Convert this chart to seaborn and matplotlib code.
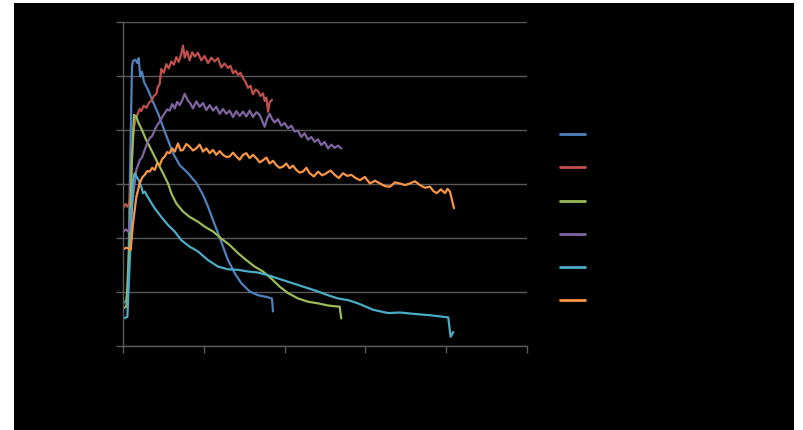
import matplotlib
matplotlib.use("Agg")
import matplotlib.pyplot as plt
import matplotlib.patches as mpatches
import numpy as np
import pandas as pd
import seaborn as sns

series_names = ["Series1", "Series2", "Series3", "Series4", "Series5", "Series6"]
series_colors = ["#4F81BD", "#C0504D", "#9BBB59", "#8064A2", "#4BACC6", "#F79646"]

x_blue = [0.5, 3.3, 5.0, 6.9, 8.9, 9.9, 12.2, 14.2, 15.5, 17.1, 18.8, 20.8, 24.8, 29.7, 34.7, 39.6, 44.6,
          49.5, 56.1, 64.4, 72.6, 79.2, 84.2, 89.1, 94.1, 99.0, 104.0, 110.6, 116.8, 125.4, 133.7, 141.9,
          147.5, 148.5]
y_blue = [8.0, 8.5, 10.4, 32.0, 51.7, 52.8, 53.0, 52.4, 53.3, 49.9, 50.8, 48.9, 47.4, 45.2, 43.1, 40.6, 38.1,
          35.7, 33.5, 32.0, 30.2, 28.0, 25.8, 23.3, 20.9, 18.4, 15.9, 13.5, 11.7, 10.1, 9.4, 9.1, 8.8, 6.4]

x_red = [0.5, 2.5, 4.3, 6.6, 8.2, 9.9, 11.0, 12.2, 13.5, 14.9, 16.5, 18.1, 20.5, 23.1, 25.5, 28.0, 30.5, 33.0,
         34.5, 36.3, 37.9, 40.4, 42.9, 45.3, 47.8, 50.3, 52.8, 55.2, 57.7, 59.4, 61.1, 63.5, 66.0, 68.5, 71.0,
         74.2, 77.5, 80.8, 84.2, 87.5, 90.8, 94.0, 97.3, 100.6, 104.0, 106.4, 108.9, 111.4, 113.9, 116.3,
         118.8, 121.3, 123.8, 126.2, 128.7, 131.2, 133.7, 136.1, 138.6, 140.2, 141.9, 143.6, 145.2, 147.5]
y_red = [25.6, 26.3, 25.8, 26.6, 32.0, 38.1, 40.6, 41.9, 42.6, 43.1, 43.9, 43.5, 44.5, 44.1, 45.0, 45.4, 46.3,
         46.7, 48.0, 48.5, 51.3, 50.6, 52.2, 51.4, 52.7, 52.1, 53.5, 52.6, 54.1, 55.6, 53.4, 54.6, 52.9, 54.4,
         53.6, 54.3, 52.9, 53.7, 52.4, 53.4, 52.7, 53.3, 51.6, 52.3, 51.5, 51.9, 50.5, 51.0, 50.2, 50.6, 49.6,
         48.9, 47.8, 48.2, 46.6, 47.5, 47.2, 46.3, 46.8, 45.4, 46.0, 43.4, 45.1, 45.6]

x_green = [0.5, 3.3, 6.6, 8.9, 10.9, 13.2, 14.9, 18.1, 23.1, 28.0, 34.7, 39.6, 44.6, 47.8, 52.8, 59.4, 66.0,
           74.3, 80.9, 89.1, 97.3, 105.6, 113.9, 122.1, 130.4, 138.6, 146.8, 155.1, 163.4, 173.3, 183.2,
           193.1, 203.0, 212.9, 214.5, 216.1]
y_green = [7.0, 7.3, 19.6, 35.1, 42.8, 42.5, 41.5, 40.3, 38.1, 36.3, 33.8, 32.0, 30.1, 28.3, 26.4, 24.9, 23.9,
           23.0, 22.1, 21.2, 19.9, 18.7, 17.2, 15.9, 14.7, 13.8, 12.5, 11.0, 9.8, 8.8, 8.2, 7.9, 7.5, 7.3,
           7.3, 5.1]

x_purple = [0.5, 3.0, 5.0, 6.6, 9.9, 13.2, 16.5, 19.0, 21.5, 24.0, 26.4, 28.9, 31.4, 33.8, 36.3, 38.8, 41.3,
            43.7, 46.2, 48.7, 51.2, 53.6, 56.1, 58.6, 61.1, 64.4, 66.8, 69.3, 72.6, 75.9, 79.2, 82.5, 85.8,
            89.1, 92.4, 95.7, 99.0, 102.3, 105.6, 108.9, 112.2, 115.5, 118.8, 122.1, 125.4, 128.7, 132.0,
            135.3, 137.8, 140.3, 142.7, 145.2, 147.7, 150.2, 153.4, 156.7, 160.0, 163.4, 166.7, 170.0, 173.2,
            176.5, 179.8, 183.2, 186.5, 189.8, 193.0, 196.3, 199.6, 203.0, 206.3, 209.6, 212.8, 216.1]
y_purple = [21.2, 21.6, 21.2, 21.9, 27.6, 32.6, 34.4, 35.0, 36.3, 37.6, 38.5, 38.9, 40.0, 40.9, 41.5, 42.4,
            43.1, 43.8, 43.6, 44.8, 44.0, 45.2, 44.6, 45.5, 46.7, 45.4, 44.9, 44.0, 45.3, 44.3, 45.0, 43.7,
            44.6, 43.6, 44.3, 43.0, 43.9, 43.0, 43.6, 42.4, 43.5, 42.6, 43.4, 42.5, 43.6, 42.4, 43.3, 42.8,
            41.7, 40.6, 42.1, 43.0, 42.0, 41.4, 42.0, 40.8, 41.3, 40.3, 40.8, 39.7, 39.9, 38.7, 39.4, 38.2,
            38.7, 37.8, 38.3, 37.2, 37.8, 36.6, 37.3, 36.7, 37.1, 36.6]

x_cyan = [0.5, 4.3, 7.6, 9.9, 11.6, 13.2, 15.5, 18.1, 19.8, 21.5, 26.4, 31.4, 37.9, 44.6, 51.2, 57.7, 66.0,
          74.3, 84.2, 94.1, 104.0, 113.9, 123.8, 133.7, 143.6, 153.5, 163.4, 173.3, 183.2, 193.1, 203.0,
          212.9, 222.8, 232.7, 247.8, 262.6, 274.2, 290.8, 303.9, 322.0, 324.4, 327.0]
y_cyan = [5.1, 5.4, 19.6, 30.7, 32.0, 31.4, 30.7, 29.5, 28.3, 28.6, 27.0, 25.5, 23.9, 22.4, 21.2, 19.6, 18.4,
          17.5, 15.9, 14.7, 14.2, 14.1, 13.8, 13.6, 13.1, 12.5, 11.9, 11.3, 10.7, 10.1, 9.4, 8.8, 8.5, 7.9,
          6.7, 6.1, 6.2, 5.9, 5.7, 5.3, 1.7, 2.6]

x_orange = [0.5, 3.0, 5.0, 7.6, 9.9, 13.2, 16.5, 19.0, 21.5, 24.0, 26.4, 28.9, 31.4, 33.8, 36.3, 38.8, 41.3,
            43.7, 46.2, 48.7, 51.2, 54.5, 57.0, 59.4, 62.7, 66.0, 69.3, 72.6, 75.9, 79.2, 82.5, 85.8, 89.1,
            92.4, 95.7, 99.0, 102.3, 105.6, 108.9, 112.2, 115.5, 118.8, 122.1, 125.4, 128.7, 132.0, 135.3,
            138.6, 141.9, 145.2, 148.5, 151.8, 155.1, 158.4, 161.7, 165.0, 168.3, 171.6, 174.9, 178.2, 181.5,
            184.8, 189.0, 193.1, 197.2, 201.3, 205.5, 209.6, 213.7, 217.8, 221.9, 226.0, 230.3, 234.6, 239.5,
            244.5, 249.5, 254.4, 259.4, 264.3, 269.3, 274.2, 279.2, 284.1, 289.0, 294.0, 299.0, 303.9, 307.3,
            310.6, 314.7, 318.8, 321.3, 323.7, 327.7]
y_orange = [17.9, 18.2, 18.1, 17.8, 22.7, 27.6, 30.1, 31.2, 31.7, 32.4, 32.3, 33.0, 32.6, 33.8, 33.5, 34.6,
            35.1, 35.9, 35.7, 36.6, 36.0, 37.5, 36.2, 36.3, 37.4, 36.9, 36.2, 36.6, 37.3, 36.0, 36.6, 35.7,
            36.3, 35.4, 36.1, 35.4, 35.0, 35.1, 35.8, 35.1, 34.5, 35.4, 35.7, 34.8, 35.4, 34.8, 34.0, 34.4,
            34.9, 33.8, 34.3, 33.5, 33.0, 33.2, 33.8, 32.9, 33.4, 32.6, 32.1, 32.3, 33.0, 32.0, 31.4, 32.3,
            31.6, 32.0, 32.5, 31.7, 31.1, 32.0, 31.5, 31.7, 31.1, 30.7, 31.3, 30.1, 30.6, 30.1, 29.6, 29.5,
            30.3, 30.1, 29.8, 30.1, 30.5, 29.8, 29.3, 29.5, 28.7, 28.3, 29.0, 28.3, 29.1, 28.6, 25.5]

x_ticks = [0, 80, 160, 240, 320, 400]
y_ticks = [0, 10, 20, 30, 40, 50, 60]

all_x = [x_blue, x_red, x_green, x_purple, x_cyan, x_orange]
all_y = [y_blue, y_red, y_green, y_purple, y_cyan, y_orange]
frames = []
for name, xs, ys in zip(series_names, all_x, all_y):
    frames.append(pd.DataFrame({"x": xs, "y": ys, "series": name}))
df = pd.concat(frames, ignore_index=True)

sns.set_style("white")
fig = plt.figure(figsize=(8.04, 4.30), dpi=100, facecolor="white")
bg = mpatches.Rectangle((14 / 804, 0), (794 - 14) / 804, (430 - 3) / 430,
                        transform=fig.transFigure, facecolor="black", edgecolor="none", zorder=-10)
fig.patches.append(bg)
ax = fig.add_axes([123 / 804, 1 - 346 / 430, (527 - 123) / 804, (346 - 22) / 430])
ax.set_zorder(5)
ax.set_facecolor("black")

grid_c = "#595959"
sns.lineplot(data=df, x="x", y="y", hue="series", palette=dict(zip(series_names, series_colors)),
             hue_order=series_names, estimator=None, sort=False, linewidth=1.6, ax=ax)

ax.set_xlim(0, 400)
ax.set_ylim(0, 60)
ax.set_xticks(x_ticks)
ax.set_yticks(y_ticks)
ax.set_xlabel("")
ax.set_ylabel("")
ax.yaxis.grid(True, color=grid_c, linewidth=1.0)
ax.xaxis.grid(False)
ax.set_axisbelow(True)
for s in ["top", "right"]:
    ax.spines[s].set_visible(False)
for s in ["left", "bottom"]:
    ax.spines[s].set_color(grid_c)
    ax.spines[s].set_linewidth(1.0)
ax.tick_params(axis="both", which="major", direction="out", length=5, width=1.0, color=grid_c,
               labelcolor="black", labelsize=10, left=True, bottom=True)

leg = ax.legend(loc="center left", bbox_to_anchor=(548 / 804, 1 - 218 / 430),
                bbox_transform=fig.transFigure, frameon=False, fontsize=10,
                handlelength=1.8, labelspacing=1.38, handletextpad=0.5)
for t in leg.get_texts():
    t.set_color("black")
for h in leg.get_lines():
    h.set_linewidth(2.0)

fig.savefig("out.png", dpi=100, facecolor="white")
